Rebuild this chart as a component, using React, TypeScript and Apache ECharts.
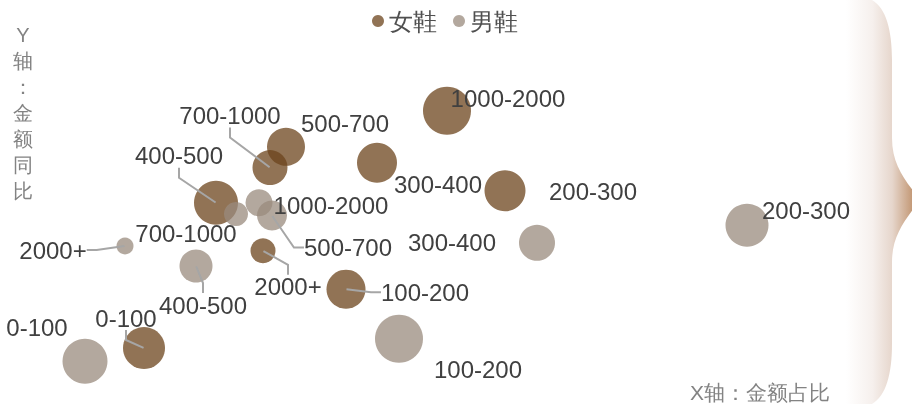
import React, { useEffect, useRef } from "react";
import * as echarts from "echarts";

const categories = ["0-100", "100-200", "200-300", "300-400", "400-500", "500-700", "700-1000", "1000-2000", "2000+"];
const seriesNames = ["女鞋", "男鞋"];
// x: 金额占比 (%), y: 金额同比 (%), size: bubble size
const womenShare = [4.7, 14.8, 22.75, 16.35, 8.3, 11.8, 11.0, 19.85, 10.65];
const womenYoY = [-6.75, 0.6, 12.9, 16.4, 11.4, 18.4, 15.8, 22.9, 5.4];
const womenSize = [42, 39, 41, 40, 44, 38, 35, 48, 25];
const menShare = [1.75, 17.45, 34.85, 24.35, 7.3, 11.1, 9.3, 10.45, 3.75];
const menYoY = [-8.4, -5.6, 8.6, 6.4, 3.5, 9.8, 10, 11.4, 6];
const menSize = [45, 48, 43, 36, 33, 30, 24, 27, 17];

// label placement offsets (px) relative to bubble centre, and whether a guide line is drawn
const womenLabelOffset = [[-18, -30], [79, 3], [88, 1], [61, 22], [-37, -47], [59, -23], [-40, -52], [61, -12], [25, 36]];
const menLabelOffset = [[-48, -34], [79, 31], [59, -15], [-85, 0], [7, 39], [76, 32], [-50, 19], [72, 3], [-72, 4]];
const womenGuide = [true, true, false, false, true, false, true, false, true];
const menGuide = [false, false, false, false, true, true, false, false, true];

const BRACE_D =
  "M846 0 L872 0 C886 8 892 30 892 60 L892 138 C892 165 905 180 920 200 C905 220 892 235 892 262 L892 344 C892 374 886 396 872 404 L846 404 Z";

let registered = false;
function ensureShape() {
  if (registered) return;
  echarts.graphic.registerShape("brace", echarts.graphic.extendPath(BRACE_D, {}) as any);
  registered = true;
}

const WOMEN_COLOR = "#6c441c";
const MEN_COLOR = "#9a8b7e";

export default function App() {
  const ref = useRef<HTMLDivElement>(null);
  useEffect(() => {
    if (!ref.current) return;
    ensureShape();
    const chart = echarts.init(ref.current, null, { renderer: "svg" });
    const build = (xs: number[], ys: number[], ss: number[]) =>
      xs.map((x, i) => ({ name: categories[i], value: [x, ys[i], ss[i]] }));
    const buildLabels = (xs: number[], ys: number[], ss: number[], guide: boolean[]) =>
      xs.map((x, i) => ({ name: categories[i], value: [x, ys[i], ss[i]], labelLine: { show: guide[i] } }));
    const offsets = [womenLabelOffset, menLabelOffset];
    const labelCommon = {
      show: true,
      formatter: "{b}",
      color: "#404040",
      fontSize: 24,
      fontFamily: "Liberation Sans",
      padding: 6,
    };
    const labelLine = { show: true, showAbove: true, length2: 10, lineStyle: { color: "#a6a6a6", width: 2 } };
    const layout = (p: any) => {
      const off = offsets[p.seriesIndex - 2][p.dataIndex];
      return {
        x: p.rect.x + p.rect.width / 2 + off[0],
        y: p.rect.y + p.rect.height / 2 + off[1],
        align: "center",
        verticalAlign: "middle",
      };
    };
    const labelSeries = (name: string, data: any[]) => ({
      name,
      type: "scatter",
      data,
      symbolSize: 1,
      silent: true,
      z: 5,
      itemStyle: { color: "transparent", opacity: 1 },
      label: labelCommon,
      labelLine,
      labelLayout: layout,
    });
    chart.setOption({
      animation: false,
      legend: {
        data: seriesNames,
        left: 367,
        top: 4,
        icon: "circle",
        itemWidth: 12,
        itemHeight: 12,
        itemGap: 16,
        textStyle: { fontSize: 24, color: "#505050" },
      },
      grid: { left: 50, right: 62, top: 54, bottom: 30 },
      xAxis: { type: "value", min: 0, max: 40, show: false },
      yAxis: { type: "value", min: -10, max: 30, show: false },
      graphic: [
        {
          type: "brace",
          x: 0,
          y: 0,
          silent: true,
          z: -10,
          style: {
            fill: new echarts.graphic.LinearGradient(846, 0, 912, 0, [
              { offset: 0, color: "#ffffff" },
              { offset: 0.4, color: "#f6f0ed" },
              { offset: 0.7, color: "#e6d6cc" },
              { offset: 1, color: "#c49a78" },
            ], true),
          },
        },
        {
          type: "text",
          x: 23,
          y: 22,
          style: {
            text: "Y\n轴\n：\n金\n额\n同\n比",
            fontSize: 20,
            lineHeight: 26,
            fill: "#838383",
            align: "center",
            verticalAlign: "top",
          },
        },
        {
          type: "text",
          x: 830,
          y: 392,
          style: { text: "X轴：金额占比", fontSize: 21, fill: "#838383", align: "right", verticalAlign: "middle" },
        },
      ],
      series: [
        {
          name: seriesNames[0],
          type: "scatter",
          data: build(womenShare, womenYoY, womenSize),
          symbolSize: (v: number[]) => v[2],
          itemStyle: { color: WOMEN_COLOR, opacity: 0.75 },
        },
        {
          name: seriesNames[1],
          type: "scatter",
          data: build(menShare, menYoY, menSize),
          symbolSize: (v: number[]) => v[2],
          itemStyle: { color: MEN_COLOR, opacity: 0.75 },
        },
        labelSeries("女鞋标签", buildLabels(womenShare, womenYoY, womenSize, womenGuide)),
        labelSeries("男鞋标签", buildLabels(menShare, menYoY, menSize, menGuide)),
      ],
    });
    return () => chart.dispose();
  }, []);
  return <div ref={ref} style={{ position: "fixed", left: 0, top: 0, width: 912, height: 404 }} />;
}
